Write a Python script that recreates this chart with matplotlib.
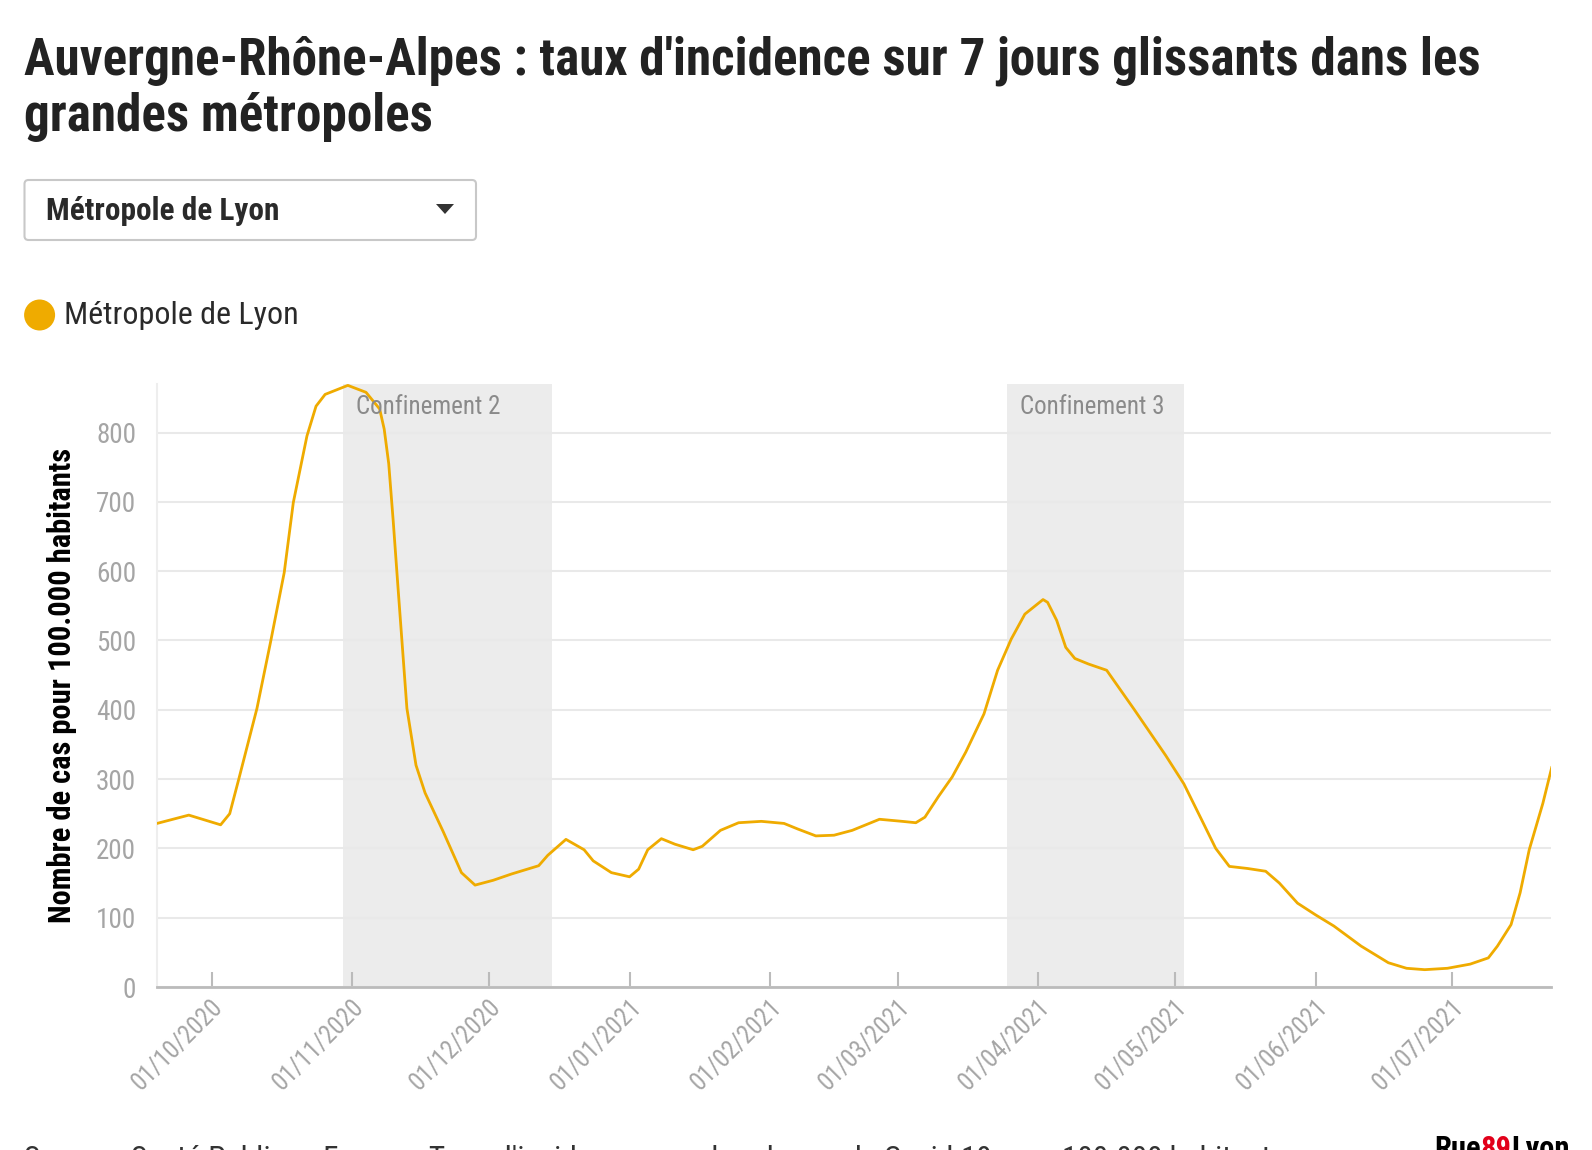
import matplotlib
matplotlib.use("Agg")
import matplotlib.pyplot as plt
import matplotlib.transforms as mtransforms
from matplotlib.patches import FancyBboxPatch, Circle, Polygon
import pandas as pd

# data (7-day incidence, Métropole de Lyon)
dates = ["2020-09-19", "2020-09-26", "2020-10-03", "2020-10-05", "2020-10-07", "2020-10-11",
         "2020-10-14", "2020-10-17", "2020-10-19", "2020-10-22", "2020-10-24", "2020-10-26",
         "2020-10-31", "2020-11-04", "2020-11-07", "2020-11-08", "2020-11-09", "2020-11-10",
         "2020-11-11", "2020-11-12", "2020-11-13", "2020-11-15", "2020-11-17", "2020-11-21",
         "2020-11-25", "2020-11-28", "2020-12-02", "2020-12-06", "2020-12-12", "2020-12-14",
         "2020-12-18", "2020-12-22", "2020-12-24", "2020-12-28", "2021-01-01", "2021-01-03",
         "2021-01-05", "2021-01-08", "2021-01-11", "2021-01-15", "2021-01-17", "2021-01-21",
         "2021-01-25", "2021-01-30", "2021-02-04", "2021-02-07", "2021-02-11", "2021-02-15",
         "2021-02-19", "2021-02-25", "2021-03-02", "2021-03-05", "2021-03-07", "2021-03-10",
         "2021-03-13", "2021-03-16", "2021-03-20", "2021-03-23", "2021-03-26", "2021-03-29",
         "2021-04-02", "2021-04-03", "2021-04-05", "2021-04-07", "2021-04-09", "2021-04-12",
         "2021-04-16", "2021-04-22", "2021-04-29", "2021-05-03", "2021-05-07", "2021-05-10",
         "2021-05-13", "2021-05-17", "2021-05-21", "2021-05-24", "2021-05-28", "2021-06-01",
         "2021-06-05", "2021-06-11", "2021-06-17", "2021-06-21", "2021-06-25", "2021-06-30",
         "2021-07-05", "2021-07-09", "2021-07-11", "2021-07-14", "2021-07-16", "2021-07-18",
         "2021-07-21", "2021-07-23"]
values = [236, 248, 234, 250, 300, 402,
          498, 598, 699, 795, 838, 855,
          868, 858, 834, 805, 755, 671,
          580, 491, 402, 320, 280, 224,
          165, 147, 154, 163, 175, 190,
          213, 198, 182, 165, 159, 170,
          198, 214, 206, 198, 203, 226,
          237, 239, 236, 228, 218, 219,
          226, 242, 239, 237, 245, 275,
          303, 339, 394, 457, 502, 538,
          559, 555, 529, 490, 474, 466,
          457, 401, 334, 293, 240, 200,
          174, 171, 167, 150, 121, 104,
          88, 59, 35, 27, 25, 27,
          33, 42, 59, 90, 136, 198,
          265, 318]

tick_dates = ["2020-10-01", "2020-11-01", "2020-12-01", "2021-01-01", "2021-02-01",
              "2021-03-01", "2021-04-01", "2021-05-01", "2021-06-01", "2021-07-01"]
tick_labels = ["01/10/2020", "01/11/2020", "01/12/2020", "01/01/2021", "01/02/2021",
               "01/03/2021", "01/04/2021", "01/05/2021", "01/06/2021", "01/07/2021"]
y_ticks = [0, 100, 200, 300, 400, 500, 600, 700, 800]

lock_names = ["Confinement 2", "Confinement 3"]
lock_start = ["2020-10-30", "2021-03-25"]
lock_end = ["2020-12-15", "2021-05-03"]

title_1 = "Auvergne-Rhône-Alpes : taux d'incidence sur 7 jours glissants dans les"
title_2 = "grandes métropoles"
series_name = "Métropole de Lyon"
source = "Source : Santé Publique France - Taux d'incidence : nombre de cas de Covid-19 pour 100.000 habitants"

FAM = ["Roboto Condensed", "Liberation Sans Narrow", "Roboto", "DejaVu Sans"]
plt.rcParams["font.family"] = FAM

YELLOW = "#EFAB00"
W, H = 1592, 1150

fig = plt.figure(figsize=(W / 100, H / 100), dpi=100)


def fx(x):
    return x / W


def fy(y):
    return 1 - y / H


# axes box in pixels: left 157, right 1551, top 384, bottom 987
AX_L, AX_R, AX_T, AX_B = 157, 1551, 384, 987
ax = fig.add_axes([fx(AX_L), fy(AX_B), (AX_R - AX_L) / W, (AX_B - AX_T) / H])

x = pd.to_datetime(dates)
ax.plot(x, values, color=YELLOW, lw=2.0, zorder=3, solid_joinstyle="round",
        solid_capstyle="round")

for name, s, e in zip(lock_names, lock_start, lock_end):
    s, e = pd.Timestamp(s), pd.Timestamp(e)
    ax.axvspan(s, e, color="#ececec", lw=0, zorder=0.2)
    ax.annotate(name, xy=(s, 1), xycoords=("data", "axes fraction"),
                xytext=(13, -23), textcoords="offset pixels",
                ha="left", va="center", fontsize=18, color="#8a8a8a", zorder=4)

ax.set_xlim(pd.Timestamp("2020-09-19"), pd.Timestamp("2021-07-22 19:00"))
ax.set_ylim(0, 870)
ax.set_yticks(y_ticks)
ax.set_xticks(pd.to_datetime(tick_dates))
ax.set_xticklabels(tick_labels, rotation=45, ha="right", va="center",
                   rotation_mode="anchor")

ax.set_axisbelow(True)
ax.yaxis.grid(True, color="#e9e9e9", lw=1.5)
for side in ["top", "right"]:
    ax.spines[side].set_visible(False)
ax.spines["left"].set_color("#eeeeee")
ax.spines["left"].set_linewidth(1.5)
ax.spines["bottom"].set_color("#bbbbbb")
ax.spines["bottom"].set_linewidth(2)
ax.spines["bottom"].set_zorder(5)

ax.tick_params(axis="x", direction="in", length=11, width=1.5, color="#bbbbbb",
               labelcolor="#a5a5a5", labelsize=18, pad=12)
ax.tick_params(axis="y", length=0, labelcolor="#a5a5a5", labelsize=19.5, pad=15)

shift = mtransforms.ScaledTranslation(8 / 100, 0, fig.dpi_scale_trans)
for lab in ax.get_xticklabels():
    lab.set_transform(lab.get_transform() + shift)

ax.set_ylabel("Nombre de cas pour 100.000 habitants", fontsize=22, fontweight="bold",
              color="black")
ax.yaxis.set_label_coords((77 - AX_L) / (AX_R - AX_L), 0.5)

# title
fig.text(fx(24), fy(74), title_1, fontsize=36.8, fontweight="bold", color="#222222",
         va="baseline")
fig.text(fx(24), fy(131), title_2, fontsize=36.8, fontweight="bold", color="#222222",
         va="baseline")

# dropdown box
inch = fig.dpi_scale_trans
box = FancyBboxPatch((24.5 / 100, (H - 240) / 100), (476 - 24.5) / 100, 60 / 100,
                     boxstyle="round,pad=0,rounding_size=0.04", transform=inch,
                     fc="white", ec="#c8c8c8", lw=1.5)
fig.add_artist(box)
fig.text(fx(46), fy(211), series_name, fontsize=22.5, fontweight="bold", color="#2a2a2a",
         va="center")
tri = Polygon([(436 / 100, (H - 204) / 100), (454 / 100, (H - 204) / 100),
               (445 / 100, (H - 214) / 100)], closed=True, transform=inch,
              fc="#333333", ec="none")
fig.add_artist(tri)

# legend
fig.add_artist(Circle((39.6 / 100, (H - 315) / 100), 15.5 / 100, transform=inch,
                      fc=YELLOW, ec="none"))
fig.text(fx(64), fy(316), series_name, fontsize=23, color="#2a2a2a", va="center")

# footer (cut off by the bottom edge)
fig.text(fx(24), fy(1145), source, fontsize=22.5, color="#333333", va="top")

renderer = fig.canvas.get_renderer()
lx = 1434
for part, col in [("Rue", "black"), ("89", "#e2001a"), ("Lyon", "black")]:
    t = fig.text(fx(lx), fy(1134), part, fontsize=22, fontweight="bold", color=col,
                 va="top")
    lx += t.get_window_extent(renderer).width

fig.savefig("out.png", dpi=100)
